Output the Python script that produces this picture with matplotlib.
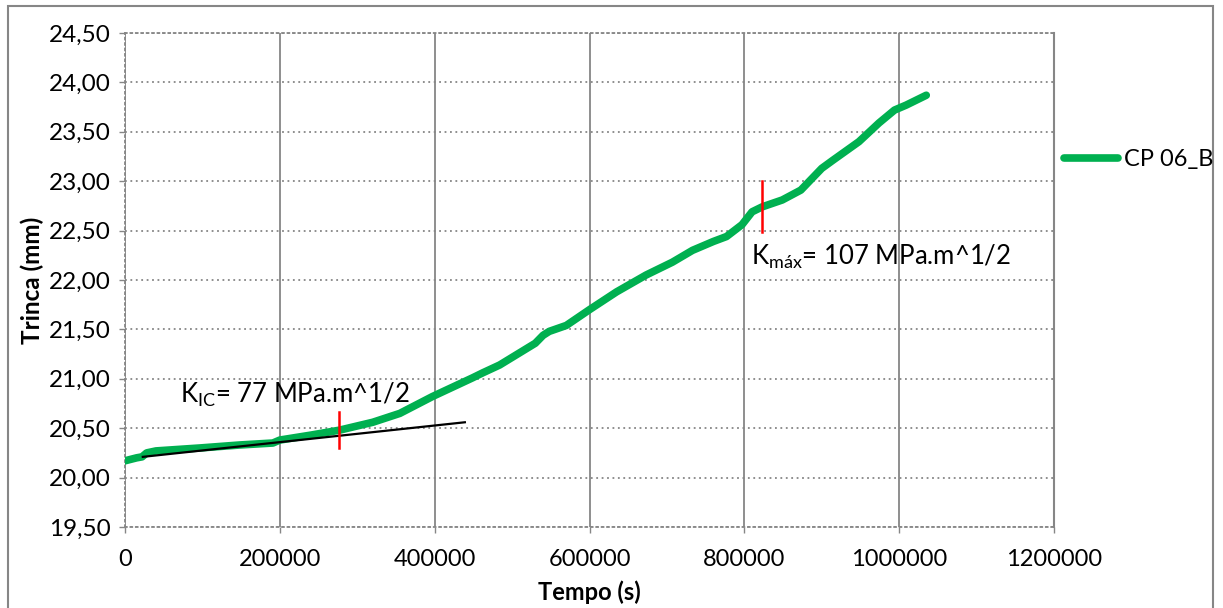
import matplotlib
matplotlib.use("Agg")
import matplotlib.pyplot as plt
from matplotlib.patches import Rectangle

# crack length (mm) vs time (s)
tempo = [0, 15000, 22000, 28000, 40000, 97000, 148000, 191000, 200000, 240000,
         277000, 320000, 355000, 397000, 449000, 462000, 484000, 530000, 540000,
         548000, 570000, 600000, 635000, 673000, 707000, 733000, 760000, 777000,
         797000, 810000, 823000, 849000, 873000, 900000, 914000, 948000, 974000,
         994000, 1009000, 1035000]
trinca = [20.17, 20.20, 20.21, 20.25, 20.27, 20.30, 20.33, 20.35, 20.38, 20.43,
          20.48, 20.56, 20.65, 20.82, 21.01, 21.06, 21.14, 21.36, 21.44,
          21.48, 21.54, 21.70, 21.88, 22.05, 22.18, 22.30, 22.39, 22.44,
          22.56, 22.69, 22.74, 22.81, 22.91, 23.13, 23.21, 23.40, 23.59,
          23.72, 23.77, 23.87]
serie = "CP 06_B"

# tangent line and the two markers
tang_x = [23000, 439000]
tang_y = [20.21, 20.56]
kic_x = 277000
kic_y = [20.30, 20.66]
kmax_x = 823000
kmax_y = [22.49, 23.00]
kic_txt = r"$\mathregular{K_{IC}}$= 77 MPa.m^1/2"
kmax_txt = r"$\mathregular{K_{máx}}$= 107 MPa.m^1/2"

x_ticks = [0, 200000, 400000, 600000, 800000, 1000000, 1200000]
y_ticks = [19.5, 20.0, 20.5, 21.0, 21.5, 22.0, 22.5, 23.0, 23.5, 24.0, 24.5]
y_labels = ["19,50", "20,00", "20,50", "21,00", "21,50", "22,00", "22,50",
            "23,00", "23,50", "24,00", "24,50"]

plt.rcParams["font.family"] = ["Lato", "DejaVu Sans"]
plt.rcParams["mathtext.fontset"] = "custom"
plt.rcParams["mathtext.rm"] = "Lato"
plt.rcParams["mathtext.it"] = "Lato:italic"
plt.rcParams["mathtext.bf"] = "Lato:bold"

grid_c = "#868686"
fig = plt.figure(figsize=(12.23, 6.08), dpi=100)
ax = fig.add_axes([125 / 1223, 1 - 527 / 608, 929 / 1223, 494 / 608])

ax.plot(tempo, trinca, color="#00B050", lw=5.5, solid_capstyle="round",
        solid_joinstyle="round", label=serie, zorder=3)
ax.plot(tang_x, tang_y, color="black", lw=1.6, zorder=4)
ax.plot([kic_x, kic_x], kic_y, color="#FF0000", lw=1.8, zorder=5)
ax.plot([kmax_x, kmax_x], kmax_y, color="#FF0000", lw=1.8, zorder=5)

ax.text(71000, 20.84, kic_txt, fontsize=18.5, va="center", ha="left")
ax.text(809000, 22.23, kmax_txt, fontsize=18.5, va="center", ha="left")

ax.set_xlim(0, 1200000)
ax.set_ylim(19.5, 24.5)
ax.set_xticks(x_ticks)
ax.set_xticklabels([str(v) for v in x_ticks])
ax.set_yticks(y_ticks)
ax.set_yticklabels(y_labels)

ax.xaxis.grid(True, color=grid_c, lw=1.3, ls="-")
ax.yaxis.grid(True, color=grid_c, lw=1.3, ls=(0, (1, 2)))
ax.set_axisbelow(True)
for side in ["left", "bottom", "top"]:
    ax.spines[side].set_color(grid_c)
    ax.spines[side].set_linestyle((0, (1, 2)))
    ax.spines[side].set_linewidth(1.3)
ax.spines["right"].set_color(grid_c)
ax.spines["right"].set_linewidth(1.5)

ax.tick_params(axis="both", colors=grid_c, labelcolor="black", labelsize=17,
               length=4, width=1)
ax.tick_params(axis="y", labelsize=17.5, pad=6)
ax.tick_params(axis="x", pad=12)

ax.set_xlabel("Tempo (s)", fontsize=17, fontweight="bold")
ax.set_ylabel("Trinca (mm)", fontsize=17.5, fontweight="bold")
ax.xaxis.set_label_coords(0.5, -0.108)
ax.yaxis.set_label_coords(-0.087, 0.5)

fig.legend(loc="center left", bbox_to_anchor=(1064 / 1223, 1 - 160 / 608),
           frameon=False, fontsize=17, handlelength=2.3, handletextpad=0.25,
           borderpad=0, borderaxespad=0)

# outer chart frame
fig.patches.append(Rectangle((8 / 1223, -0.02), 1205 / 1223, 1.02 - 6 / 608,
                             transform=fig.transFigure, fill=False,
                             edgecolor=grid_c, lw=1.5))

fig.savefig("out.png", dpi=100)
